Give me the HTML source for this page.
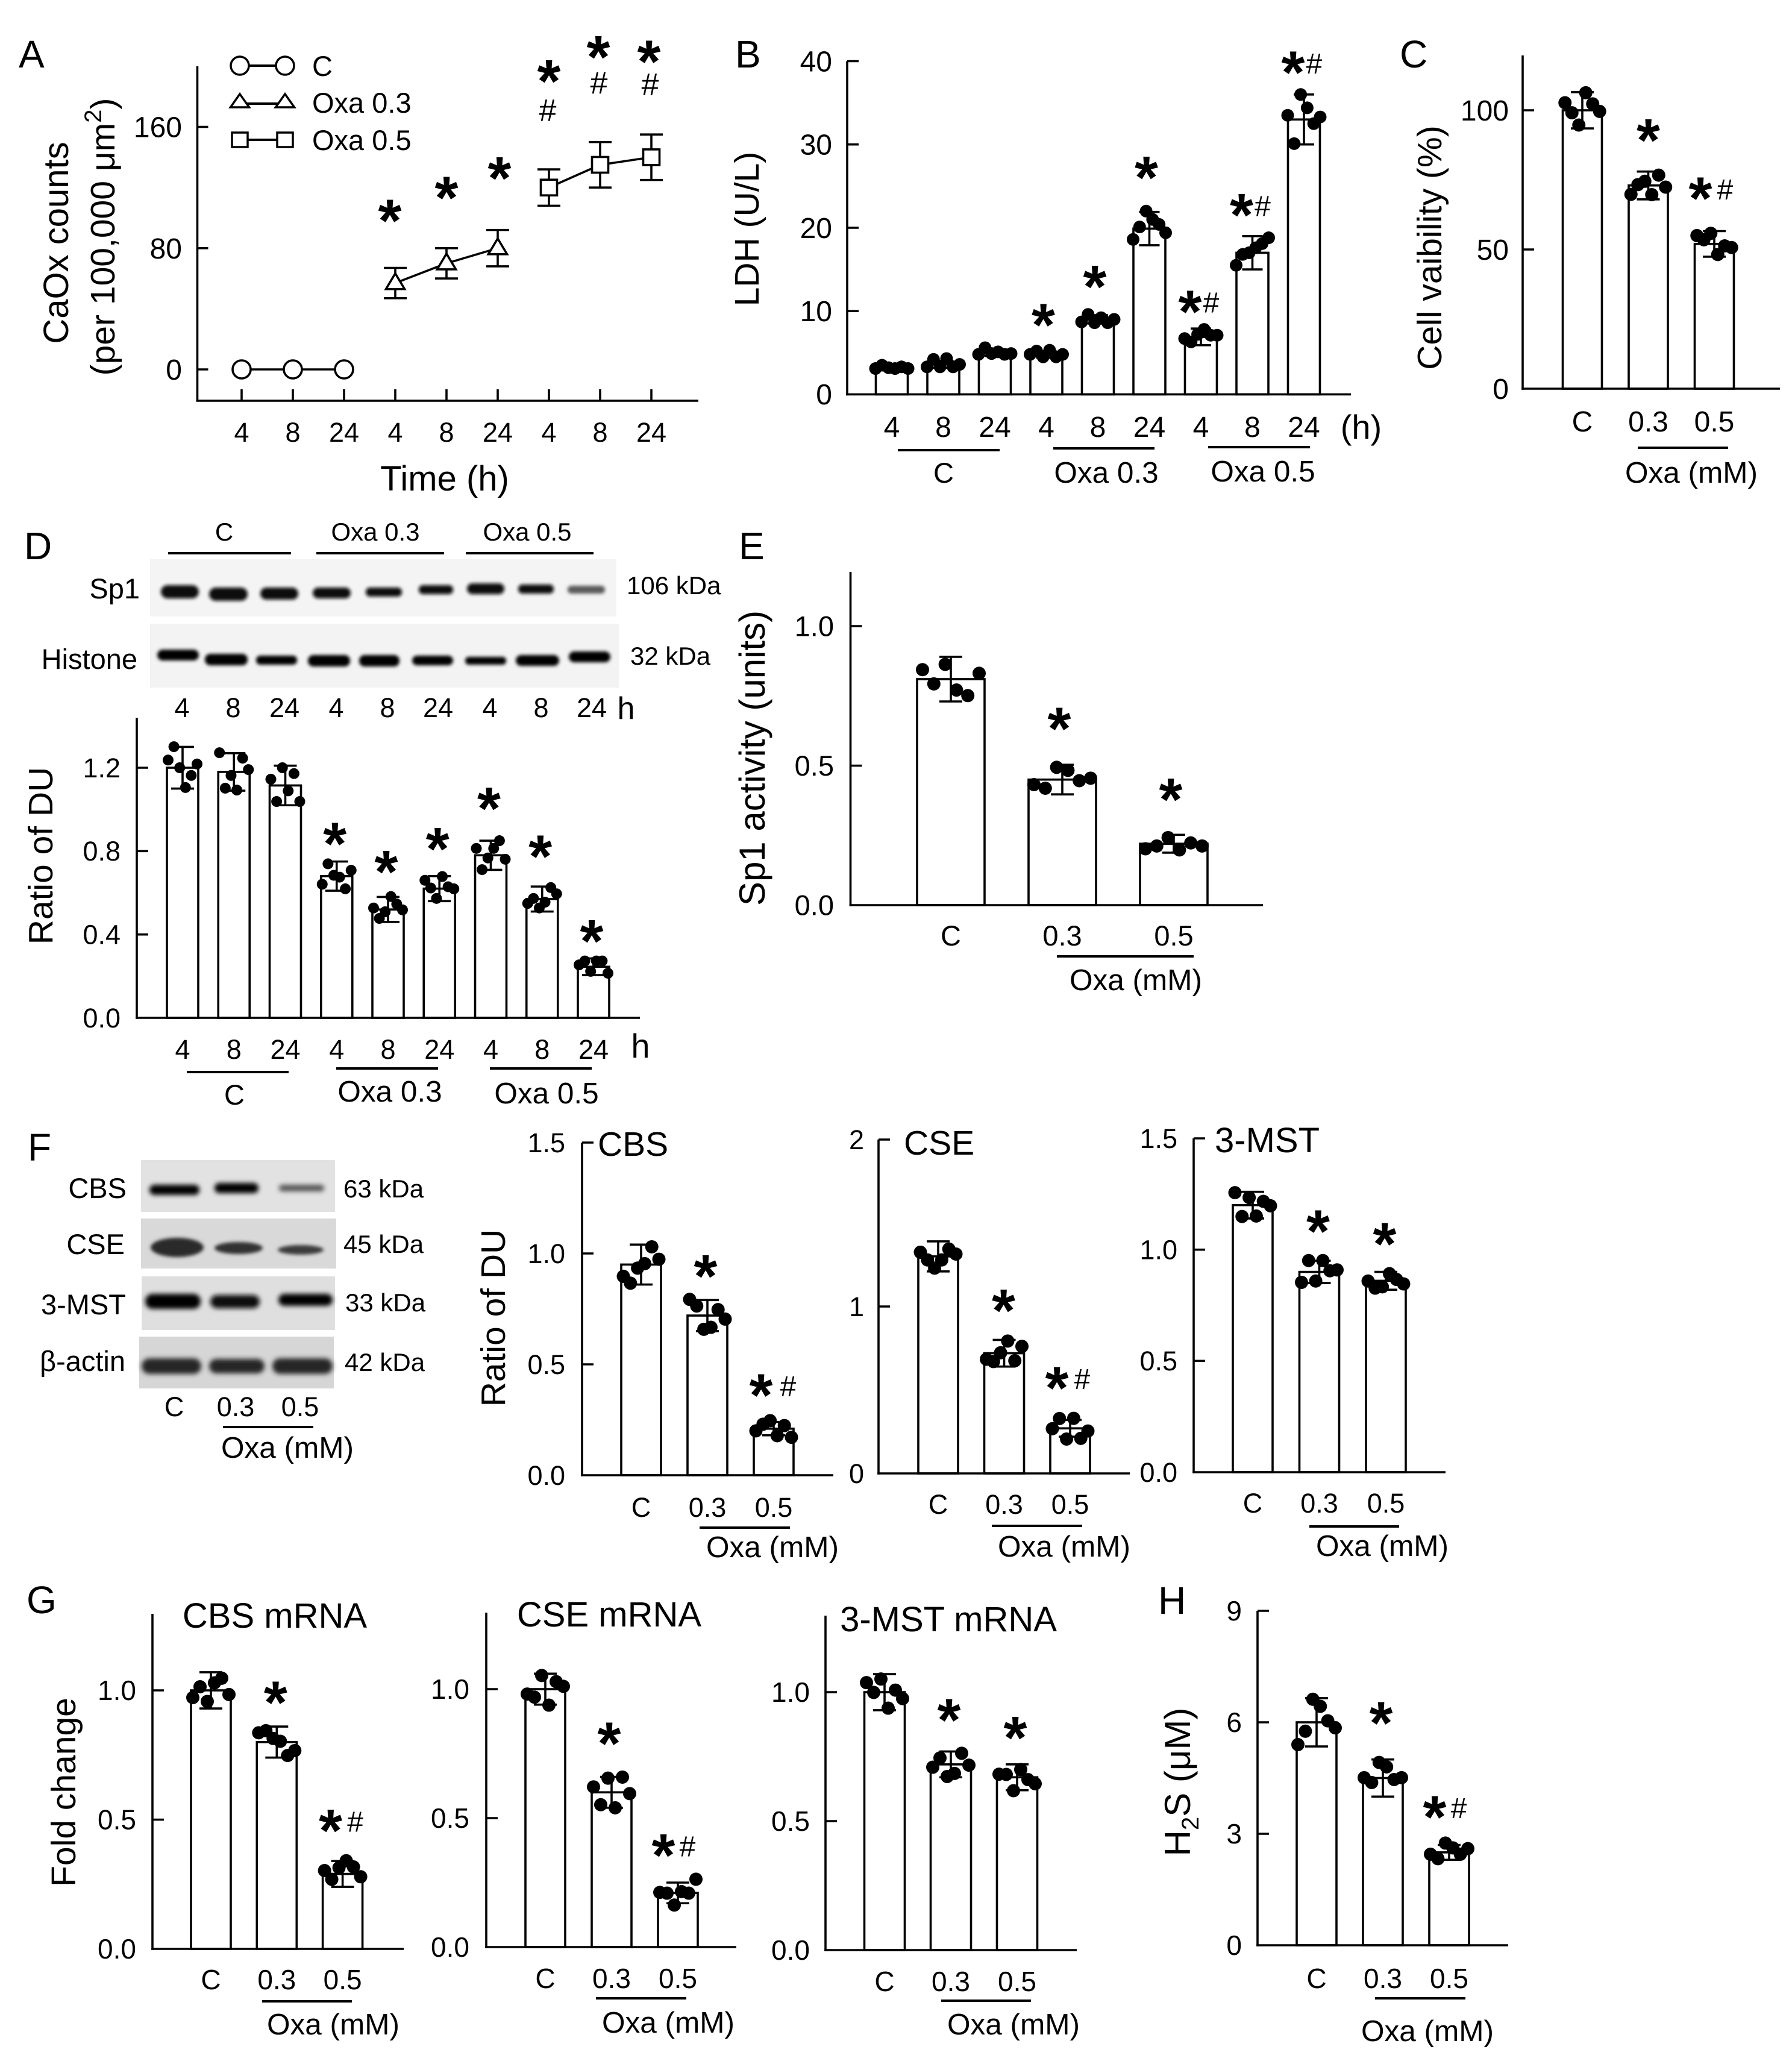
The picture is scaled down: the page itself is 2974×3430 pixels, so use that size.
<!DOCTYPE html>
<html lang="en">
<head>
<meta charset="utf-8">
<title>Oxalate effects on CaOx, LDH, viability, Sp1 and H2S enzymes</title>
<style>
html,body{margin:0;padding:0;background:#fff;}
svg{display:block;}
text{font-family:"Liberation Sans",Arial,sans-serif;fill:#000;}
.t42{font-size:42px}.t45{font-size:45px}.t47{font-size:47px}.t48{font-size:48px}.t49{font-size:49.500px}.t57{font-size:57px}.t58{font-size:58px}.t64{font-size:64px}
.m{text-anchor:middle}.e{text-anchor:end}
line.u{stroke:#000;stroke-width:4;}
</style>
</head>
<body>
<svg id="figure" width="2974" height="3430" viewBox="0 0 2974 3430">
<defs>
<filter id="bandBlur" x="-20%" y="-60%" width="140%" height="220%"><feGaussianBlur stdDeviation="2.8"/></filter>
<filter id="bandBlurWide" x="-20%" y="-60%" width="140%" height="220%"><feGaussianBlur stdDeviation="4"/></filter>
</defs>
<rect width="2974" height="3430" fill="#fff"/>

<!-- Panel letters -->
<text class="t64" x="31" y="112">A</text>
<text class="t64" x="1220" y="112">B</text>
<text class="t64" x="2323" y="112">C</text>
<text class="t64" x="40" y="928">D</text>
<text class="t64" x="1226" y="928">E</text>
<text class="t64" x="46" y="1926">F</text>
<text class="t64" x="44" y="2677">G</text>
<text class="t64" x="1922" y="2678">H</text>

<!-- Panel A static text and legend -->
<text class="t58 m" transform="translate(113,403) rotate(-90)">CaOx counts</text>
<text class="m" style="font-size:57px" transform="translate(190,393) rotate(-90)">(per 100,000 μm<tspan dy="-22" font-size="40">2</tspan><tspan dy="22">)</tspan></text>
<text class="t58 m" x="738" y="814">Time (h)</text>
<g>
  <line class="u" x1="398" y1="109" x2="473" y2="109"/>
  <circle cx="398" cy="109" r="15" fill="#fff" stroke="#000" stroke-width="3.5"/>
  <circle cx="473" cy="109" r="15" fill="#fff" stroke="#000" stroke-width="3.5"/>
  <text class="t47" x="518" y="126">C</text>
  <line class="u" x1="398" y1="172" x2="473" y2="172"/>
  <polygon points="398,156 382.5,178 413.5,178" fill="#fff" stroke="#000" stroke-width="3.5"/>
  <polygon points="473,156 457.500,178 488.500,178" fill="#fff" stroke="#000" stroke-width="3.5"/>
  <text class="t47" x="518" y="187">Oxa 0.3</text>
  <line class="u" x1="398" y1="232" x2="473" y2="232"/>
  <rect x="385" y="220" width="26" height="24" fill="#fff" stroke="#000" stroke-width="3.5"/>
  <rect x="460" y="220" width="26" height="24" fill="#fff" stroke="#000" stroke-width="3.5"/>
  <text class="t47" x="518" y="249">Oxa 0.5</text>
</g>

<!-- Panel B static text -->
<text class="t57 m" transform="translate(1259,380) rotate(-90)">LDH (U/L)</text>
<text class="m" style="font-size:56px" x="2259" y="728">(h)</text>
<line class="u" x1="1490" y1="747" x2="1659" y2="747"/>
<line class="u" x1="1748" y1="744" x2="1916" y2="744"/>
<line class="u" x1="2005" y1="742" x2="2174" y2="742"/>
<text class="t47 m" x="1566" y="801">C</text>
<text class="t49 m" x="1836" y="801">Oxa 0.3</text>
<text class="t49 m" x="2096" y="799">Oxa 0.5</text>

<!-- Panel C static text -->
<text class="t57 m" transform="translate(2392,411) rotate(-90)">Cell vaibility (%)</text>
<line class="u" x1="2718" y1="743" x2="2868" y2="743"/>
<text class="t49 m" x="2807" y="801">Oxa (mM)</text>

<!-- Panel D blots -->
<g>
  <text class="t42 m" x="372" y="897">C</text>
  <text class="t42 m" x="623" y="897">Oxa 0.3</text>
  <text class="t42 m" x="875" y="897">Oxa 0.5</text>
  <line class="u" x1="279" y1="918" x2="483" y2="918"/>
  <line class="u" x1="525" y1="918" x2="737" y2="918"/>
  <line class="u" x1="773" y1="918" x2="985" y2="918"/>
</g>
<g>
  <rect x="249" y="928" width="774" height="95" fill="#f4f4f4"/>
  <g filter="url(#bandBlur)" fill="#0c0c0c">
    <rect x="267" y="971" width="63" height="22" rx="11"/>
    <rect x="347" y="975" width="64" height="22" rx="11"/>
    <rect x="432" y="975" width="63" height="20" rx="10"/>
    <rect x="519" y="975" width="63" height="18" rx="9"/>
    <rect x="607" y="975" width="60" height="15" rx="7"/>
    <rect x="695" y="971" width="57" height="15" rx="7"/>
    <rect x="775" y="968" width="62" height="18" rx="9"/>
    <rect x="860" y="970" width="59" height="15" rx="7"/>
    <rect x="942" y="972" width="62" height="13" rx="6" fill="#5a5a5a"/>
  </g>
</g>
<g>
  <rect x="249" y="1035" width="778" height="106" fill="#f3f3f3"/>
  <g filter="url(#bandBlur)" fill="#050505">
    <rect x="261" y="1078" width="69" height="18" rx="9"/>
    <rect x="340" y="1085" width="71" height="19" rx="9"/>
    <rect x="425" y="1088" width="68" height="15" rx="7"/>
    <rect x="511" y="1087" width="70" height="19" rx="9"/>
    <rect x="596" y="1087" width="67" height="19" rx="9"/>
    <rect x="684" y="1088" width="68" height="16" rx="8"/>
    <rect x="772" y="1090" width="68" height="13" rx="6"/>
    <rect x="856" y="1087" width="72" height="18" rx="9"/>
    <rect x="944" y="1081" width="69" height="18" rx="9"/>
  </g>
</g>
<text class="t47 e" x="232" y="993">Sp1</text>
<text class="t47 e" x="228" y="1110">Histone</text>
<text class="t42" x="1040" y="986">106 kDa</text>
<text class="t42" x="1046" y="1103">32 kDa</text>
<g>
  <text class="t45 m" x="302" y="1190">4</text>
  <text class="t45 m" x="387" y="1190">8</text>
  <text class="t45 m" x="472" y="1190">24</text>
  <text class="t45 m" x="558" y="1190">4</text>
  <text class="t45 m" x="643" y="1190">8</text>
  <text class="t45 m" x="727" y="1190">24</text>
  <text class="t45 m" x="813" y="1190">4</text>
  <text class="t45 m" x="898" y="1190">8</text>
  <text class="t45 m" x="982" y="1190">24</text>
  <text class="m" style="font-size:52px" x="1039" y="1193">h</text>
</g>
<text class="t57 m" transform="translate(87,1420) rotate(-90)">Ratio of DU</text>
<text class="m" style="font-size:56px" x="1063" y="1755">h</text>
<line class="u" x1="310" y1="1779" x2="479" y2="1779"/>
<line class="u" x1="558" y1="1773" x2="727" y2="1773"/>
<line class="u" x1="813" y1="1773" x2="982" y2="1773"/>
<text class="t47 m" x="389" y="1833">C</text>
<text class="t49 m" x="647" y="1828">Oxa 0.3</text>
<text class="t49 m" x="907" y="1831">Oxa 0.5</text>

<!-- Panel E static text -->
<text class="m" style="font-size:60px" transform="translate(1269,1258) rotate(-90)">Sp1 activity (units)</text>
<line class="u" x1="1754" y1="1587" x2="1981" y2="1587"/>
<text class="t49 m" x="1885" y="1643">Oxa (mM)</text>

<!-- Panel F blots -->
<g>
  <rect x="234" y="1925" width="322" height="86" fill="#e2e2e2"/>
  <g filter="url(#bandBlurWide)">
    <rect x="248" y="1966" width="83" height="17" rx="8" fill="#000"/>
    <rect x="356" y="1963" width="73" height="17" rx="8" fill="#000"/>
    <rect x="463" y="1966" width="75" height="11" rx="5" fill="#555"/>
  </g>
</g>
<g>
  <rect x="234" y="2022" width="324" height="83" fill="#d9d9d9"/>
  <g filter="url(#bandBlur)">
    <ellipse cx="294" cy="2070" rx="44" ry="16" fill="#2c2c2c"/>
    <ellipse cx="396" cy="2071" rx="40" ry="10" fill="#333"/>
    <ellipse cx="499" cy="2074" rx="38" ry="8" fill="#3a3a3a"/>
  </g>
</g>
<g>
  <rect x="235" y="2118" width="321" height="89" fill="#dfdfdf"/>
  <g filter="url(#bandBlurWide)">
    <rect x="241" y="2147" width="92" height="25" rx="12" fill="#000"/>
    <rect x="349" y="2149" width="82" height="22" rx="11" fill="#0a0a0a"/>
    <rect x="462" y="2147" width="90" height="20" rx="10" fill="#000"/>
  </g>
</g>
<g>
  <rect x="231" y="2218" width="323" height="86" fill="#d6d6d6"/>
  <g filter="url(#bandBlurWide)" fill="#262626">
    <rect x="235" y="2254" width="99" height="26" rx="13"/>
    <rect x="347" y="2255" width="92" height="24" rx="12"/>
    <rect x="452" y="2254" width="100" height="26" rx="13"/>
  </g>
</g>
<text class="t47 e" x="210" y="1988">CBS</text>
<text class="t47 e" x="207" y="2081">CSE</text>
<text class="t47 e" x="209" y="2181">3-MST</text>
<text class="t47 e" x="208" y="2275">β-actin</text>
<text class="t42" x="570" y="1987">63 kDa</text>
<text class="t42" x="570" y="2079">45 kDa</text>
<text class="t42" x="573" y="2176">33 kDa</text>
<text class="t42" x="572" y="2275">42 kDa</text>
<text class="t45 m" x="289" y="2350">C</text>
<text class="t45 m" x="391" y="2350">0.3</text>
<text class="t45 m" x="498" y="2350">0.5</text>
<line class="u" x1="370" y1="2368" x2="520" y2="2368"/>
<text class="t49 m" x="477" y="2419">Oxa (mM)</text>

<!-- Panel F chart static text -->
<text class="t57 m" transform="translate(838,2187) rotate(-90)">Ratio of DU</text>
<text class="t57" x="992" y="1918">CBS</text>
<text class="t57" x="1500" y="1916">CSE</text>
<text class="t58" x="2016" y="1912">3-MST</text>
<line class="u" x1="1161" y1="2535" x2="1311" y2="2535"/>
<line class="u" x1="1646" y1="2532" x2="1796" y2="2532"/>
<line class="u" x1="2173" y1="2533" x2="2322" y2="2533"/>
<text class="t49 m" x="1282" y="2584">Oxa (mM)</text>
<text class="t49 m" x="1766" y="2583">Oxa (mM)</text>
<text class="t49 m" x="2294" y="2582">Oxa (mM)</text>

<!-- Panel G and H static text -->
<text class="t57 m" transform="translate(125,2974) rotate(-90)">Fold change</text>
<text class="t58 m" x="456" y="2701">CBS mRNA</text>
<text class="t58 m" x="1011" y="2699">CSE mRNA</text>
<text class="t58 m" x="1574" y="2707">3-MST mRNA</text>
<line class="u" x1="435" y1="3321" x2="584" y2="3321"/>
<line class="u" x1="989" y1="3316" x2="1139" y2="3316"/>
<line class="u" x1="1562" y1="3320" x2="1711" y2="3320"/>
<line class="u" x1="2282" y1="3316" x2="2432" y2="3316"/>
<text class="t49 m" x="553" y="3376">Oxa (mM)</text>
<text class="t49 m" x="1109" y="3373">Oxa (mM)</text>
<text class="t49 m" x="1682" y="3376">Oxa (mM)</text>
<text class="t49 m" x="2369" y="3387">Oxa (mM)</text>
<text class="m" style="font-size:60px" transform="translate(1975,2957) rotate(-90)">H<tspan dy="14" font-size="40">2</tspan><tspan dy="-14">S (μM)</tspan></text>

<!-- Scripted chart groups -->
<g id="chartA"></g>
<g id="chartB"></g>
<g id="chartC"></g>
<g id="chartD"></g>
<g id="chartE"></g>
<g id="chartFcbs"></g>
<g id="chartFcse"></g>
<g id="chartFmst"></g>
<g id="chartGcbs"></g>
<g id="chartGcse"></g>
<g id="chartGmst"></g>
<g id="chartH"></g>
</svg>

<script>
// ---------- Panel A ----------
const panelAHours = ['4','8','24','4','8','24','4','8','24'];
const panelATickLabels = ['0','80','160'];
const panelAControl = [0,0,0];
const panelALow = [57,70,80];
const panelALowErrors = [10,10,12];
const panelAHigh = [120,135,140];
const panelAHighErrors = [12,15,15];
const panelAStars = [null,null,null,104,119,132,196,212,209];
const panelAHashes = [null,null,null,null,null,null,171,189,188];

// ---------- Panel B ----------
const panelBCategories = ['4','8','24','4','8','24','4','8','24'];
const panelBTickLabels = ['0','10','20','30','40'];
const panelBMeans = [3.2,3.6,4.9,4.8,9,19.9,6.9,17,33];
const panelBErrors = [0.3,0.4,0.3,0.4,0.5,2,1,2,3];
const panelBPoints = [
  [3.1,3.5,3.2,3.1,3.3,3.1],
  [3.3,4.2,3.3,4.3,3.3,3.6],
  [4.8,5.6,4.9,5.1,4.8,4.9],
  [4.8,5.2,4.5,5.3,4.5,4.8],
  [8.7,9.6,8.6,9.2,8.6,9],
  [18.6,20.1,22,21,20.4,19.4],
  [6.7,6.3,7.2,7.8,7.1,7.1],
  [15.5,16.8,17,17.6,18.1,18.8],
  [33.5,30.1,36,34.4,32.5,33.3]
];
const panelBStars = [null,null,null,9.4,14,27.1,11,22.6,39.7];
const panelBHashes = [false,false,false,false,false,false,true,true,true];

// ---------- Panel C ----------
const panelCCategories = ['C','0.3','0.5'];
const panelCTickLabels = ['0','50','100'];
const panelCMeans = [100,73,52];
const panelCErrors = [6.5,5,4.6];
const panelCPoints = [
  [102.7,99.1,94.7,106.3,102.3,99.6],
  [69.8,73.3,74.5,69.7,76.7,72.4],
  [55,53.5,55.8,48.2,51.3,50.7]
];
const panelCStars = [null,92.4,71.5];
const panelCHashes = [false,false,true];

// ---------- Panel D ----------
const panelDCategories = ['4','8','24','4','8','24','4','8','24'];
const panelDTickLabels = ['0.0','0.4','0.8','1.2'];
const panelDMeans = [1.2,1.18,1.115,0.68,0.52,0.62,0.78,0.57,0.245];
const panelDErrors = [0.1,0.09,0.095,0.07,0.06,0.06,0.07,0.06,0.04];
const panelDPoints = [
  [1.237,1.301,1.2,1.105,1.163,1.218],
  [1.272,1.102,1.163,1.093,1.246,1.191],
  [1.145,1.038,1.2,1.089,1.172,1.038],
  [0.641,0.739,0.684,0.675,0.619,0.708],
  [0.527,0.477,0.509,0.582,0.546,0.518],
  [0.66,0.623,0.573,0.678,0.629,0.619],
  [0.813,0.711,0.767,0.813,0.85,0.761],
  [0.549,0.573,0.527,0.555,0.625,0.595],
  [0.254,0.273,0.223,0.273,0.273,0.214]
];
const panelDStars = [null,null,null,0.877,0.743,0.853,1.047,0.817,0.411];
const panelDHashes = [false,false,false,false,false,false,false,false,false];

// ---------- Panel E ----------
const panelECategories = ['C','0.3','0.5'];
const panelETickLabels = ['0.0','0.5','1.0'];
const panelEMeans = [0.81,0.45,0.22];
const panelEErrors = [0.08,0.053,0.032];
const panelEPoints = [
  [0.844,0.793,0.863,0.771,0.751,0.831],
  [0.432,0.419,0.494,0.483,0.446,0.455],
  [0.202,0.212,0.242,0.198,0.223,0.212]
];
const panelEStars = [null,0.664,0.41];
const panelEHashes = [false,false,false];

// ---------- Panel F ----------
const panelFCbsCategories = ['C','0.3','0.5'];
const panelFCbsTickLabels = ['0.0','0.5','1.0','1.5'];
const panelFCbsMeans = [0.95,0.72,0.21];
const panelFCbsErrors = [0.09,0.07,0.03];
const panelFCbsPoints = [
  [0.897,0.866,0.934,0.954,1.03,0.974],
  [0.793,0.763,0.658,0.667,0.747,0.704],
  [0.2,0.23,0.246,0.178,0.224,0.171]
];
const panelFCbsStars = [null,0.937,0.401];
const panelFCbsHashes = [false,false,true];

const panelFCseCategories = ['C','0.3','0.5'];
const panelFCseTickLabels = ['0','1','2'];
const panelFCseMeans = [1.3,0.72,0.27];
const panelFCseErrors = [0.09,0.08,0.05];
const panelFCsePoints = [
  [1.325,1.279,1.23,1.279,1.344,1.314],
  [0.684,0.67,0.723,0.793,0.675,0.761],
  [0.268,0.329,0.206,0.33,0.21,0.254]
];
const panelFCseStars = [null,1.029,0.565];
const panelFCseHashes = [false,false,true];

const panelFMstCategories = ['C','0.3','0.5'];
const panelFMstTickLabels = ['0.0','0.5','1.0','1.5'];
const panelFMstMeans = [1.2,0.9,0.86];
const panelFMstErrors = [0.06,0.05,0.04];
const panelFMstPoints = [
  [1.256,1.149,1.234,1.151,1.217,1.197],
  [0.853,0.951,0.859,0.951,0.905,0.909],
  [0.859,0.827,0.833,0.892,0.866,0.846]
];
const panelFMstStars = [null,1.122,1.066];
const panelFMstHashes = [false,false,false];

// ---------- Panel G ----------
const panelGCbsCategories = ['C','0.3','0.5'];
const panelGCbsTickLabels = ['0.0','0.5','1.0'];
const panelGCbsMeans = [1,0.8,0.29];
const panelGCbsErrors = [0.07,0.06,0.05];
const panelGCbsPoints = [
  [0.972,1.014,0.957,1.029,1.047,0.984],
  [0.836,0.844,0.814,0.803,0.748,0.767],
  [0.303,0.269,0.314,0.341,0.317,0.279]
];
const panelGCbsStars = [null,0.987,0.492];
const panelGCbsHashes = [false,false,true];

const panelGCseCategories = ['C','0.3','0.5'];
const panelGCseTickLabels = ['0.0','0.5','1.0'];
const panelGCseMeans = [1,0.6,0.21];
const panelGCseErrors = [0.06,0.06,0.04];
const panelGCsePoints = [
  [0.981,0.969,1.053,0.938,1.029,1.011],
  [0.621,0.552,0.655,0.54,0.659,0.595],
  [0.212,0.209,0.163,0.215,0.209,0.263]
];
const panelGCseStars = [null,0.824,0.39];
const panelGCseHashes = [false,false,true];

const panelGMstCategories = ['C','0.3','0.5'];
const panelGMstTickLabels = ['0.0','0.5','1.0'];
const panelGMstMeans = [1,0.72,0.67];
const panelGMstErrors = [0.07,0.05,0.05];
const panelGMstPoints = [
  [1.037,0.999,1.051,0.938,1.008,0.975],
  [0.709,0.745,0.673,0.685,0.763,0.717],
  [0.682,0.681,0.618,0.7,0.661,0.645]
];
const panelGMstStars = [null,0.926,0.857];
const panelGMstHashes = [false,false,false];

// ---------- Panel H ----------
const panelHCategories = ['C','0.3','0.5'];
const panelHTickLabels = ['0','3','6','9'];
const panelHMeans = [6,4.5,2.5];
const panelHErrors = [0.65,0.5,0.2];
const panelHPoints = [
  [5.4,5.76,6.62,6.43,6.04,5.85],
  [4.51,4.38,4.92,4.8,4.46,4.51],
  [2.45,2.33,2.75,2.62,2.45,2.6]
];
const panelHStars = [null,6.22,3.69];
const panelHHashes = [false,false,true];

// ---------- drawing ----------
const figure = document.getElementById('figure');
const NS = figure.namespaceURI;
const STROKE = 3.6;
const STAR_SIZE = 100;
const STAR_LIFT = 0.49;
const HASH_SIZE = 48;

function node(parent, tag, props, content) {
  const n = document.createElementNS(NS, tag);
  for (const k in props) n.setAttribute(k, props[k]);
  if (content !== undefined) n.textContent = content;
  parent.appendChild(n);
  return n;
}

function drawBarChart(groupId, L, d) {
  const g = document.getElementById(groupId);
  const yScale = v => L.yZero - v * (L.yZero - L.yRef) / L.refValue;
  const xScale = i => L.first + i * L.step;

  d.means.forEach((m, i) => {
    const cx = xScale(i);
    const top = yScale(m);
    const bar = node(g, 'rect', {x: cx - L.barWidth / 2, y: top, width: L.barWidth, height: L.yZero - top, fill: '#fff', stroke: '#000', 'stroke-width': STROKE});
    
    

    const up = yScale(m + d.errors[i]);
    const down = yScale(m - d.errors[i]);
    const stem = node(g, 'line', {x1: cx, x2: cx, y1: up, y2: down, stroke: '#000', 'stroke-width': STROKE});
    
    
    [up, down].forEach(yCap => {
      const cap = node(g, 'line', {x1: cx - L.capWidth / 2, x2: cx + L.capWidth / 2, y1: yCap, y2: yCap, stroke: '#000', 'stroke-width': STROKE});
      
      
    });

    d.points[i].forEach((v, j) => {
      const dot = node(g, 'circle', {cx: cx + (j - 2.5) * L.jitter, cy: yScale(v), r: L.dotR, fill: '#000'});
      
      
    });

    const cat = node(g, 'text', {x: cx, y: L.catBaseline, 'text-anchor': 'middle', 'font-size': L.catFont}, d.categories[i]);
    
    

    if (d.stars[i] !== null) {
      const hasHash = d.hashes[i];
      const sy = yScale(d.stars[i]);
      const sx = cx + (hasHash ? L.starHashDx : L.starDx);
      const star = node(g, 'text', {x: sx, y: sy + STAR_LIFT * STAR_SIZE, 'text-anchor': 'middle', 'font-size': STAR_SIZE, 'font-weight': 'bold'}, '*');
      
      
      if (hasHash) {
        const hash = node(g, 'text', {x: cx + L.hashDx, y: sy + 0.34 * HASH_SIZE, 'text-anchor': 'middle', 'font-size': HASH_SIZE}, '#');
        
        
      }
    }
  });

  const yAxis = node(g, 'line', {x1: L.x0, x2: L.x0, y1: L.yTop, y2: L.yZero + STROKE / 2, stroke: '#000', 'stroke-width': STROKE});
  
  
  const xAxis = node(g, 'line', {x1: L.x0 - STROKE / 2, x2: L.xEnd, y1: L.yZero, y2: L.yZero, stroke: '#000', 'stroke-width': STROKE});
  
  

  d.tickLabels.forEach(label => {
    const v = parseFloat(label);
    const ty = yScale(v);
    if (v !== 0) {
      const tick = node(g, 'line', {x1: L.x0, x2: L.x0 + 19, y1: ty, y2: ty, stroke: '#000', 'stroke-width': STROKE});
      
      
    }
    const txt = node(g, 'text', {x: L.labelRight, y: ty + 0.35 * L.labelFont, 'text-anchor': 'end', 'font-size': L.labelFont}, label);
    
    
  });
}

function drawChartA() {
  const g = document.getElementById('chartA');
  const x0 = 327.5, xEnd = 1159, yTop = 110, yBase = 665, yZero = 613, y160 = 210.6;
  const first = 401, step = 85;
  const xScale = i => first + i * step;
  const yScale = v => yZero - v * (yZero - y160) / 160;
  const starNudge = [0, 0, 0, -9, 0, 3, 0, -3, -4];

  const yAxis = node(g, 'line', {x1: x0, x2: x0, y1: yTop, y2: yBase, stroke: '#000', 'stroke-width': STROKE});
  
  
  const xAxis = node(g, 'line', {x1: x0 - 2, x2: xEnd, y1: yBase, y2: yBase, stroke: '#000', 'stroke-width': STROKE});
  
  

  panelATickLabels.forEach(label => {
    const ty = yScale(parseFloat(label));
    const tick = node(g, 'line', {x1: x0, x2: x0 + 18, y1: ty, y2: ty, stroke: '#000', 'stroke-width': STROKE});
    
    
    const txt = node(g, 'text', {x: 302, y: ty + 17, 'text-anchor': 'end', 'font-size': 48}, label);
    
    
  });

  panelAHours.forEach((label, i) => {
    const cx = xScale(i);
    const tick = node(g, 'line', {x1: cx, x2: cx, y1: yBase - 19, y2: yBase, stroke: '#000', 'stroke-width': STROKE});
    
    
    const txt = node(g, 'text', {x: cx, y: 733, 'text-anchor': 'middle', 'font-size': 45}, label);
    
    
    if (panelAStars[i] !== null) {
      const star = node(g, 'text', {x: cx + starNudge[i], y: yScale(panelAStars[i]) + STAR_LIFT * STAR_SIZE, 'text-anchor': 'middle', 'font-size': STAR_SIZE, 'font-weight': 'bold'}, '*');
      
      
    }
    if (panelAHashes[i] !== null) {
      const hash = node(g, 'text', {x: cx - 2, y: yScale(panelAHashes[i]) + 18, 'text-anchor': 'middle', 'font-size': 52}, '#');
      
      
    }
  });

  function series(values, errors, offset, marker) {
    const pts = values.map((v, i) => xScale(i + offset) + ',' + yScale(v)).join(' ');
    const line = node(g, 'polyline', {points: pts, fill: 'none', stroke: '#000', 'stroke-width': STROKE});
    
    
    values.forEach((v, i) => {
      const cx = xScale(i + offset);
      const cy = yScale(v);
      if (errors) {
        const up = yScale(v + errors[i]);
        const down = yScale(v - errors[i]);
        const stem = node(g, 'line', {x1: cx, x2: cx, y1: up, y2: down, stroke: '#000', 'stroke-width': STROKE});
        
        
        [up, down].forEach(yCap => {
          const cap = node(g, 'line', {x1: cx - 19, x2: cx + 19, y1: yCap, y2: yCap, stroke: '#000', 'stroke-width': STROKE});
          
          
        });
      }
      let m;
      if (marker === 'circle') {
        m = node(g, 'circle', {cx: cx, cy: cy, r: 15, fill: '#fff', stroke: '#000', 'stroke-width': STROKE});
      } else if (marker === 'triangle') {
        m = node(g, 'polygon', {points: cx + ',' + (cy - 16) + ' ' + (cx - 15.5) + ',' + (cy + 10) + ' ' + (cx + 15.5) + ',' + (cy + 10), fill: '#fff', stroke: '#000', 'stroke-width': STROKE});
      } else {
        m = node(g, 'rect', {x: cx - 13.5, y: cy - 13, width: 27, height: 26, fill: '#fff', stroke: '#000', 'stroke-width': STROKE});
      }
      
      
    });
  }
  series(panelAControl, null, 0, 'circle');
  series(panelALow, panelALowErrors, 3, 'triangle');
  series(panelAHigh, panelAHighErrors, 6, 'square');
}

drawChartA();

drawBarChart('chartB',
  {x0:1406,xEnd:2242,yTop:101.5,yZero:654.4,yRef:101.5,refValue:40,first:1480,step:85.5,barWidth:53,capWidth:34,dotR:10.5,jitter:10.8,labelRight:1381,labelFont:48,catBaseline:725,catFont:48,starDx:-5,starHashDx:-18,hashDx:17},
  {categories:panelBCategories,tickLabels:panelBTickLabels,means:panelBMeans,errors:panelBErrors,points:panelBPoints,stars:panelBStars,hashes:panelBHashes});

drawBarChart('chartC',
  {x0:2527,xEnd:2954,yTop:92,yZero:645,yRef:183,refValue:100,first:2626,step:109.5,barWidth:65,capWidth:38,dotR:11,jitter:11.5,labelRight:2504,labelFont:48,catBaseline:716,catFont:48,starDx:0,starHashDx:-23,hashDx:18},
  {categories:panelCCategories,tickLabels:panelCTickLabels,means:panelCMeans,errors:panelCErrors,points:panelCPoints,stars:panelCStars,hashes:panelCHashes});

drawBarChart('chartD',
  {x0:227,xEnd:1062,yTop:1191,yZero:1689,yRef:1274,refValue:1.2,first:303,step:85.25,barWidth:52,capWidth:38,dotR:9,jitter:9.6,labelRight:200,labelFont:45,catBaseline:1757,catFont:45,starDx:-3,starHashDx:-3,hashDx:17},
  {categories:panelDCategories,tickLabels:panelDTickLabels,means:panelDMeans,errors:panelDErrors,points:panelDPoints,stars:panelDStars,hashes:panelDHashes});

drawBarChart('chartE',
  {x0:1411.5,xEnd:2096,yTop:949,yZero:1502,yRef:1039,refValue:1,first:1578,step:185,barWidth:112,capWidth:38,dotR:11,jitter:18.8,labelRight:1384,labelFont:47,catBaseline:1569,catFont:47,starDx:-5,starHashDx:-5,hashDx:17},
  {categories:panelECategories,tickLabels:panelETickLabels,means:panelEMeans,errors:panelEErrors,points:panelEPoints,stars:panelEStars,hashes:panelEHashes});

drawBarChart('chartFcbs',
  {x0:966,xEnd:1383,yTop:1896,yZero:2448,yRef:1896,refValue:1.5,first:1064,step:110,barWidth:66,capWidth:38,dotR:11,jitter:11.8,labelRight:938,labelFont:45,catBaseline:2517,catFont:45,starDx:-3,starHashDx:-21,hashDx:24},
  {categories:panelFCbsCategories,tickLabels:panelFCbsTickLabels,means:panelFCbsMeans,errors:panelFCbsErrors,points:panelFCbsPoints,stars:panelFCbsStars,hashes:panelFCbsHashes});

drawBarChart('chartFcse',
  {x0:1458,xEnd:1875,yTop:1891,yZero:2445,yRef:1891,refValue:2,first:1557,step:109.5,barWidth:66,capWidth:38,dotR:11,jitter:11.8,labelRight:1434,labelFont:45,catBaseline:2512,catFont:45,starDx:-1,starHashDx:-22,hashDx:20},
  {categories:panelFCseCategories,tickLabels:panelFCseTickLabels,means:panelFCseMeans,errors:panelFCseErrors,points:panelFCsePoints,stars:panelFCseStars,hashes:panelFCseHashes});

drawBarChart('chartFmst',
  {x0:1981,xEnd:2399,yTop:1889,yZero:2443,yRef:1889,refValue:1.5,first:2079,step:110.5,barWidth:66,capWidth:38,dotR:11,jitter:11.8,labelRight:1954,labelFont:45,catBaseline:2510,catFont:45,starDx:-2,starHashDx:-2,hashDx:20},
  {categories:panelFMstCategories,tickLabels:panelFMstTickLabels,means:panelFMstMeans,errors:panelFMstErrors,points:panelFMstPoints,stars:panelFMstStars,hashes:panelFMstHashes});

drawBarChart('chartGcbs',
  {x0:253,xEnd:670,yTop:2678,yZero:3234,yRef:2805,refValue:1,first:350,step:109.3,barWidth:66,capWidth:38,dotR:11,jitter:12,labelRight:226,labelFont:46,catBaseline:3301,catFont:46,starDx:-2,starHashDx:-20,hashDx:21},
  {categories:panelGCbsCategories,tickLabels:panelGCbsTickLabels,means:panelGCbsMeans,errors:panelGCbsErrors,points:panelGCbsPoints,stars:panelGCbsStars,hashes:panelGCbsHashes});

drawBarChart('chartGcse',
  {x0:807,xEnd:1222,yTop:2676,yZero:3231,yRef:2803,refValue:1,first:905,step:110,barWidth:66,capWidth:38,dotR:11,jitter:12,labelRight:779,labelFont:46,catBaseline:3299,catFont:46,starDx:-4,starHashDx:-24,hashDx:16},
  {categories:panelGCseCategories,tickLabels:panelGCseTickLabels,means:panelGCseMeans,errors:panelGCseErrors,points:panelGCsePoints,stars:panelGCseStars,hashes:panelGCseHashes});

drawBarChart('chartGmst',
  {x0:1370,xEnd:1787,yTop:2681,yZero:3236,yRef:2808,refValue:1,first:1468,step:110,barWidth:67,capWidth:38,dotR:11,jitter:12,labelRight:1344,labelFont:46,catBaseline:3304,catFont:46,starDx:-3,starHashDx:-3,hashDx:16},
  {categories:panelGMstCategories,tickLabels:panelGMstTickLabels,means:panelGMstMeans,errors:panelGMstErrors,points:panelGMstPoints,stars:panelGMstStars,hashes:panelGMstHashes});

drawBarChart('chartH',
  {x0:2087,xEnd:2503,yTop:2673,yZero:3228,yRef:2673,refValue:9,first:2185,step:110,barWidth:66,capWidth:38,dotR:11,jitter:12.4,labelRight:2061,labelFont:46,catBaseline:3299,catFont:46,starDx:-3,starHashDx:-24,hashDx:16},
  {categories:panelHCategories,tickLabels:panelHTickLabels,means:panelHMeans,errors:panelHErrors,points:panelHPoints,stars:panelHStars,hashes:panelHHashes});
</script>
</body>
</html>
